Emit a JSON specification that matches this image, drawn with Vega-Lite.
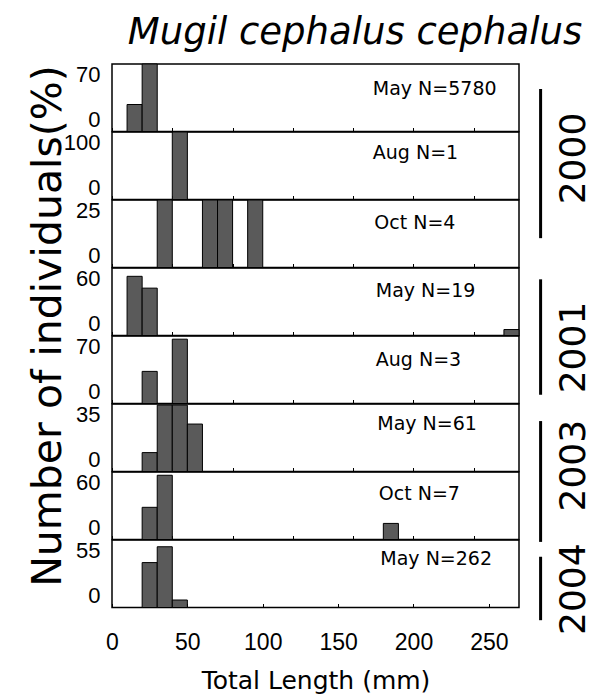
{
  "$schema": "https://vega.github.io/schema/vega-lite/v6.json",
  "background": "white",
  "padding": {"left": 27, "right": 5, "top": 14, "bottom": 3},
  "title": {"text": "Mugil cephalus cephalus", "font": "DejaVu Sans", "fontSize": 37, "fontStyle": "italic", "fontWeight": "normal", "color": "black", "anchor": "end", "offset": 10, "dx": -10},
  "config": {
    "view": {"stroke": "black", "strokeWidth": 1.5},
    "concat": {"spacing": 0},
    "axis": {"grid": false, "labelColor": "black", "titleColor": "black", "tickColor": "black", "domain": false},
    "axisY": {"ticks": false, "labelFlush": true, "labelFont": "Liberation Sans", "labelFontSize": 22, "labelPadding": 12},
    "axisX": {"labelFlush": false, "labelOverlap": false}
  },
  "datasets": {
    "bars": [
      {"panel": 1, "start": 10, "end": 20, "pct": 28},
      {"panel": 1, "start": 20, "end": 30, "pct": 70},
      {"panel": 2, "start": 40, "end": 50, "pct": 100},
      {"panel": 3, "start": 30, "end": 40, "pct": 25},
      {"panel": 3, "start": 60, "end": 70, "pct": 25},
      {"panel": 3, "start": 70, "end": 80, "pct": 25},
      {"panel": 3, "start": 90, "end": 100, "pct": 25},
      {"panel": 4, "start": 10, "end": 20, "pct": 52.6},
      {"panel": 4, "start": 20, "end": 30, "pct": 42.1},
      {"panel": 4, "start": 260, "end": 270, "pct": 5.3},
      {"panel": 5, "start": 20, "end": 30, "pct": 33.3},
      {"panel": 5, "start": 40, "end": 50, "pct": 66.7},
      {"panel": 6, "start": 20, "end": 30, "pct": 9.8},
      {"panel": 6, "start": 30, "end": 40, "pct": 34.4},
      {"panel": 6, "start": 40, "end": 50, "pct": 34.4},
      {"panel": 6, "start": 50, "end": 60, "pct": 24.6},
      {"panel": 7, "start": 20, "end": 30, "pct": 28.6},
      {"panel": 7, "start": 30, "end": 40, "pct": 57.1},
      {"panel": 7, "start": 180, "end": 190, "pct": 14.3},
      {"panel": 8, "start": 20, "end": 30, "pct": 36.6},
      {"panel": 8, "start": 30, "end": 40, "pct": 49.5},
      {"panel": 8, "start": 40, "end": 50, "pct": 6.1}
    ],
    "years": [
      {"year": "2000", "y1": 0.37, "y2": 2.58, "ymid": 1.4},
      {"year": "2001", "y1": 3.19, "y2": 4.9, "ymid": 4.2},
      {"year": "2003", "y1": 5.29, "y2": 7.08, "ymid": 5.95},
      {"year": "2004", "y1": 7.3, "y2": 8.24, "ymid": 7.78}
    ]
  },
  "hconcat": [
    {
      "title": {"text": "Number of individuals(%)", "orient": "left", "font": "DejaVu Sans", "fontSize": 41, "fontWeight": "normal", "color": "black", "anchor": "end", "offset": -7, "dx": -3},
      "spacing": 0,
      "bounds": "flush",
      "vconcat": [
        {"width": 407, "height": 67.5, "layer": [
          {"data": {"name": "bars"}, "transform": [{"filter": "datum.panel == 1"}], "mark": {"type": "bar", "fill": "#5a5a5a", "stroke": "black", "strokeWidth": 1},
           "encoding": {"x": {"field": "start", "type": "quantitative", "scale": {"domain": [0, 270], "nice": false}, "axis": {"values": [0,10,20,30,40,50,60,70,80,90,100,110,120,130,140,150,160,170,180,190,200,210,220,230,240,250,260], "labels": false, "tickSize": -4, "title": null}}, "x2": {"field": "end"},
             "y": {"field": "pct", "type": "quantitative", "scale": {"domain": [0, 70], "nice": false}, "axis": {"values": [0, 70], "title": null}}, "y2": {"datum": 0}}},
          {"data": {"values": [{"label": "May N=5780"}]}, "mark": {"type": "text", "font": "DejaVu Sans", "fontSize": 19, "align": "left", "baseline": "middle", "color": "black"},
           "encoding": {"text": {"field": "label"}, "x": {"datum": 173, "type": "quantitative"}, "y": {"datum": 44.4, "type": "quantitative"}}}
        ]},
        {"width": 407, "height": 67.5, "layer": [
          {"data": {"name": "bars"}, "transform": [{"filter": "datum.panel == 2"}], "mark": {"type": "bar", "fill": "#5a5a5a", "stroke": "black", "strokeWidth": 1},
           "encoding": {"x": {"field": "start", "type": "quantitative", "scale": {"domain": [0, 270], "nice": false}, "axis": {"values": [0,10,20,30,40,50,60,70,80,90,100,110,120,130,140,150,160,170,180,190,200,210,220,230,240,250,260], "labels": false, "tickSize": -4, "title": null}}, "x2": {"field": "end"},
             "y": {"field": "pct", "type": "quantitative", "scale": {"domain": [0, 100], "nice": false}, "axis": {"values": [0, 100], "title": null}}, "y2": {"datum": 0}}},
          {"data": {"values": [{"label": "Aug N=1"}]}, "mark": {"type": "text", "font": "DejaVu Sans", "fontSize": 19, "align": "left", "baseline": "middle", "color": "black"},
           "encoding": {"text": {"field": "label"}, "x": {"datum": 173, "type": "quantitative"}, "y": {"datum": 69.3, "type": "quantitative"}}}
        ]},
        {"width": 407, "height": 67.5, "layer": [
          {"data": {"name": "bars"}, "transform": [{"filter": "datum.panel == 3"}], "mark": {"type": "bar", "fill": "#5a5a5a", "stroke": "black", "strokeWidth": 1},
           "encoding": {"x": {"field": "start", "type": "quantitative", "scale": {"domain": [0, 270], "nice": false}, "axis": {"values": [0,10,20,30,40,50,60,70,80,90,100,110,120,130,140,150,160,170,180,190,200,210,220,230,240,250,260], "labels": false, "tickSize": -4, "title": null}}, "x2": {"field": "end"},
             "y": {"field": "pct", "type": "quantitative", "scale": {"domain": [0, 25], "nice": false}, "axis": {"values": [0, 25], "title": null}}, "y2": {"datum": 0}}},
          {"data": {"values": [{"label": "Oct N=4"}]}, "mark": {"type": "text", "font": "DejaVu Sans", "fontSize": 19, "align": "left", "baseline": "middle", "color": "black"},
           "encoding": {"text": {"field": "label"}, "x": {"datum": 174, "type": "quantitative"}, "y": {"datum": 16.5, "type": "quantitative"}}}
        ]},
        {"width": 407, "height": 67.5, "layer": [
          {"data": {"name": "bars"}, "transform": [{"filter": "datum.panel == 4"}], "mark": {"type": "bar", "fill": "#5a5a5a", "stroke": "black", "strokeWidth": 1},
           "encoding": {"x": {"field": "start", "type": "quantitative", "scale": {"domain": [0, 270], "nice": false}, "axis": {"values": [0,10,20,30,40,50,60,70,80,90,100,110,120,130,140,150,160,170,180,190,200,210,220,230,240,250,260], "labels": false, "tickSize": -4, "title": null}}, "x2": {"field": "end"},
             "y": {"field": "pct", "type": "quantitative", "scale": {"domain": [0, 60], "nice": false}, "axis": {"values": [0, 60], "title": null}}, "y2": {"datum": 0}}},
          {"data": {"values": [{"label": "May N=19"}]}, "mark": {"type": "text", "font": "DejaVu Sans", "fontSize": 19, "align": "left", "baseline": "middle", "color": "black"},
           "encoding": {"text": {"field": "label"}, "x": {"datum": 175, "type": "quantitative"}, "y": {"datum": 39.3, "type": "quantitative"}}}
        ]},
        {"width": 407, "height": 67.5, "layer": [
          {"data": {"name": "bars"}, "transform": [{"filter": "datum.panel == 5"}], "mark": {"type": "bar", "fill": "#5a5a5a", "stroke": "black", "strokeWidth": 1},
           "encoding": {"x": {"field": "start", "type": "quantitative", "scale": {"domain": [0, 270], "nice": false}, "axis": {"values": [0,10,20,30,40,50,60,70,80,90,100,110,120,130,140,150,160,170,180,190,200,210,220,230,240,250,260], "labels": false, "tickSize": -4, "title": null}}, "x2": {"field": "end"},
             "y": {"field": "pct", "type": "quantitative", "scale": {"domain": [0, 70], "nice": false}, "axis": {"values": [0, 70], "title": null}}, "y2": {"datum": 0}}},
          {"data": {"values": [{"label": "Aug N=3"}]}, "mark": {"type": "text", "font": "DejaVu Sans", "fontSize": 19, "align": "left", "baseline": "middle", "color": "black"},
           "encoding": {"text": {"field": "label"}, "x": {"datum": 175, "type": "quantitative"}, "y": {"datum": 45.1, "type": "quantitative"}}}
        ]},
        {"width": 407, "height": 67.5, "layer": [
          {"data": {"name": "bars"}, "transform": [{"filter": "datum.panel == 6"}], "mark": {"type": "bar", "fill": "#5a5a5a", "stroke": "black", "strokeWidth": 1},
           "encoding": {"x": {"field": "start", "type": "quantitative", "scale": {"domain": [0, 270], "nice": false}, "axis": {"values": [0,10,20,30,40,50,60,70,80,90,100,110,120,130,140,150,160,170,180,190,200,210,220,230,240,250,260], "labels": false, "tickSize": -4, "title": null}}, "x2": {"field": "end"},
             "y": {"field": "pct", "type": "quantitative", "scale": {"domain": [0, 35], "nice": false}, "axis": {"values": [0, 35], "title": null}}, "y2": {"datum": 0}}},
          {"data": {"values": [{"label": "May N=61"}]}, "mark": {"type": "text", "font": "DejaVu Sans", "fontSize": 19, "align": "left", "baseline": "middle", "color": "black"},
           "encoding": {"text": {"field": "label"}, "x": {"datum": 176, "type": "quantitative"}, "y": {"datum": 24.6, "type": "quantitative"}}}
        ]},
        {"width": 407, "height": 67.5, "layer": [
          {"data": {"name": "bars"}, "transform": [{"filter": "datum.panel == 7"}], "mark": {"type": "bar", "fill": "#5a5a5a", "stroke": "black", "strokeWidth": 1},
           "encoding": {"x": {"field": "start", "type": "quantitative", "scale": {"domain": [0, 270], "nice": false}, "axis": {"values": [0,10,20,30,40,50,60,70,80,90,100,110,120,130,140,150,160,170,180,190,200,210,220,230,240,250,260], "labels": false, "tickSize": -4, "title": null}}, "x2": {"field": "end"},
             "y": {"field": "pct", "type": "quantitative", "scale": {"domain": [0, 60], "nice": false}, "axis": {"values": [0, 60], "title": null}}, "y2": {"datum": 0}}},
          {"data": {"values": [{"label": "Oct N=7"}]}, "mark": {"type": "text", "font": "DejaVu Sans", "fontSize": 19, "align": "left", "baseline": "middle", "color": "black"},
           "encoding": {"text": {"field": "label"}, "x": {"datum": 177, "type": "quantitative"}, "y": {"datum": 40.4, "type": "quantitative"}}}
        ]},
        {"width": 407, "height": 67.5, "layer": [
          {"data": {"name": "bars"}, "transform": [{"filter": "datum.panel == 8"}], "mark": {"type": "bar", "fill": "#5a5a5a", "stroke": "black", "strokeWidth": 1},
           "encoding": {"x": {"field": "start", "type": "quantitative", "scale": {"domain": [0, 270], "nice": false}, "axis": {"values": [0, 50, 100, 150, 200, 250], "labelOverlap": false, "labelFont": "Liberation Sans", "labelFontSize": 23, "labelPadding": 28, "tickSize": -4, "title": "Total Length (mm)", "titleFont": "DejaVu Sans", "titleFontSize": 25, "titleFontWeight": "normal", "titlePadding": 14}}, "x2": {"field": "end"},
             "y": {"field": "pct", "type": "quantitative", "scale": {"domain": [0, 55], "nice": false}, "axis": {"values": [0, 55], "title": null}}, "y2": {"datum": 0}}},
          {"data": {"values": [{"label": "May N=262"}]}, "mark": {"type": "text", "font": "DejaVu Sans", "fontSize": 19, "align": "left", "baseline": "middle", "color": "black"},
           "encoding": {"text": {"field": "label"}, "x": {"datum": 178, "type": "quantitative"}, "y": {"datum": 39.5, "type": "quantitative"}}}
        ]}
      ]
    },
    {
      "width": 70, "height": 540, "view": {"stroke": null},
      "data": {"name": "years"},
      "layer": [
        {"mark": {"type": "rule", "strokeWidth": 3, "color": "black"},
         "encoding": {"x": {"datum": 0.28, "type": "quantitative", "scale": {"domain": [0, 1]}, "axis": null},
           "y": {"field": "y1", "type": "quantitative", "scale": {"domain": [0, 8], "reverse": true, "nice": false}, "axis": null}, "y2": {"field": "y2"}}},
        {"mark": {"type": "text", "angle": 270, "font": "DejaVu Sans", "fontSize": 36, "align": "center", "baseline": "middle", "color": "black"},
         "encoding": {"x": {"datum": 0.76, "type": "quantitative"}, "y": {"field": "ymid", "type": "quantitative"}, "text": {"field": "year"}}}
      ]
    }
  ]
}
